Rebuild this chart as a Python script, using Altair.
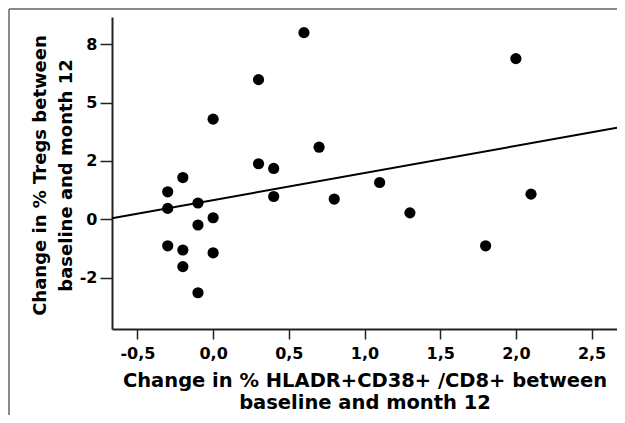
import json
import altair as alt
import pandas as pd

# Data
x_values = [0.60, 2.00, 0.30, 0.00, 0.70, 0.30, 0.40, -0.20, 1.10, -0.30, 2.10, 0.40,
            0.80, -0.10, -0.30, 1.30, 0.00, -0.10, -0.30, 1.80, -0.20, 0.00, -0.20, -0.10]
y_values = [7.99, 6.88, 5.98, 4.29, 3.09, 2.38, 2.18, 1.79, 1.58, 1.18, 1.08, 0.98,
            0.87, 0.70, 0.47, 0.28, 0.07, -0.24, -1.13, -1.13, -1.31, -1.43, -2.02, -3.14]

x_tick_values = [-0.5, 0.0, 0.5, 1.0, 1.5, 2.0, 2.5]
x_tick_labels = ["-0,5", "0,0", "0,5", "1,0", "1,5", "2,0", "2,5"]
y_tick_values = [-2.5, 0.0, 2.5, 5.0, 7.5]
y_tick_labels = ["-2", "0", "2", "5", "8"]

x_domain = [-0.668, 2.668]
y_domain = [-4.69, 8.66]

x_title = ["Change in % HLADR+CD38+ /CD8+ between", "baseline and month 12"]
y_title = ["Change in % Tregs between", "baseline and month 12"]

df = pd.DataFrame({"x": x_values, "y": y_values})

W, H = 505, 312
FONT = "DejaVu Sans"
AX = "#222222"


def label_expr(values, labels):
    return f"{json.dumps(labels)}[indexof({json.dumps(values)}, datum.value)]"


x_enc = alt.X(
    "x:Q",
    scale=alt.Scale(domain=x_domain, nice=False, zero=False),
    axis=alt.Axis(
        values=x_tick_values,
        labelExpr=label_expr(x_tick_values, x_tick_labels),
        title=x_title,
        titleFont=FONT, titleFontSize=19.5, titleFontWeight="bold", titleColor="black",
        titleLineHeight=22.5, titleY=42, titleBaseline="top",
        labelFont=FONT, labelFontSize=16, labelFontWeight="bold", labelColor="black",
        tickSize=10, labelPadding=6, tickColor=AX, tickWidth=1.5,
        domainColor=AX, domainWidth=2, grid=False, labelFlush=False,
    ),
)
y_enc = alt.Y(
    "y:Q",
    scale=alt.Scale(domain=y_domain, nice=False, zero=False),
    axis=alt.Axis(
        values=y_tick_values,
        labelExpr=label_expr(y_tick_values, y_tick_labels),
        title=y_title,
        titleFont=FONT, titleFontSize=18, titleFontWeight="bold", titleColor="black",
        titleLineHeight=26, titleX=-81, titleY=158, titleBaseline="top", titleAngle=270,
        labelFont=FONT, labelFontSize=16, labelFontWeight="bold", labelColor="black",
        tickSize=12, labelPadding=3, tickColor=AX, tickWidth=1.5,
        domainColor=AX, domainWidth=2, grid=False, labelFlush=False,
    ),
)

base = alt.Chart(df)

points = base.mark_circle(size=125, color="black", opacity=1).encode(x=x_enc, y=y_enc)

line = base.transform_regression("x", "y", extent=x_domain).mark_line(
    color="black", strokeWidth=2
).encode(x=x_enc, y=y_enc)

frame_top = alt.Chart(pd.DataFrame({"k": [0]})).mark_rule(
    color="#8a8a8a", strokeWidth=2
).encode(x=alt.value(-103), x2=alt.value(W + 10), y=alt.value(-8))
frame_left = alt.Chart(pd.DataFrame({"k": [0]})).mark_rule(
    color="#8a8a8a", strokeWidth=2
).encode(x=alt.value(-103), y=alt.value(-8), y2=alt.value(H + 100))

chart = alt.layer(frame_top, frame_left, line, points).properties(
    width=W,
    height=H,
    autosize=alt.AutoSizeParams(type="none"),
    padding={"left": 104, "top": 9, "right": 0, "bottom": 86},
    background="white",
).configure_view(stroke=None)

chart.save("out.html", embed_options={"renderer": "svg", "actions": False})
